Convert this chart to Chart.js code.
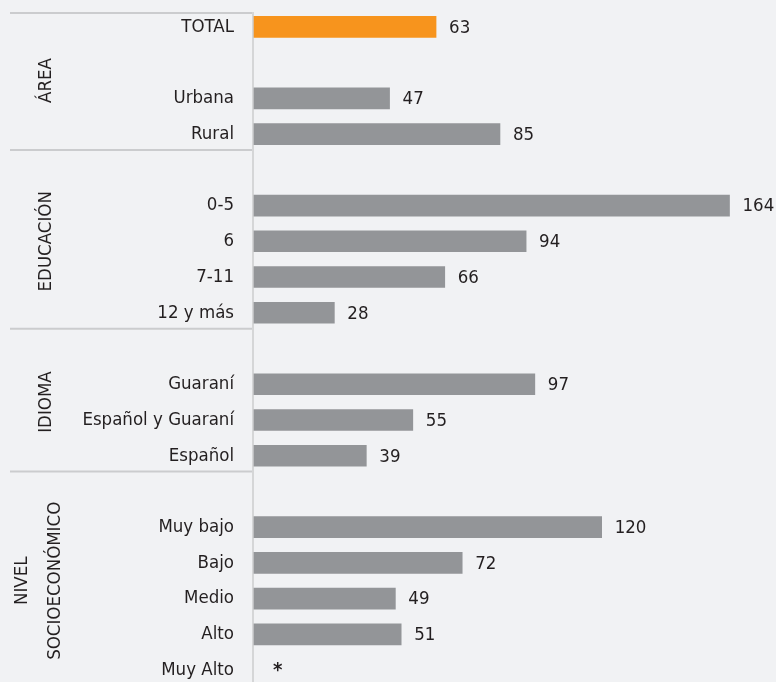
<!DOCTYPE html>
<html>
<head>
<meta charset="utf-8">
<script src="https://cdn.jsdelivr.net/npm/chart.js@4/dist/chart.umd.min.js"></script>
<style>
  html, body { margin: 0; padding: 0; overflow: hidden; background: #f1f2f4; }
  #wrap { position: relative; width: 776px; height: 688px; }
</style>
</head>
<body>
<div id="wrap"><canvas id="chart"></canvas></div>
<script>
// rows of the chart, empty strings are spacer rows between groups
const categories = ['TOTAL', '', 'Urbana', 'Rural',
    '', '0-5', '6', '7-11', '12 y más',
    '', 'Guaraní', 'Español y Guaraní', 'Español',
    '', 'Muy bajo', 'Bajo', 'Medio', 'Alto', 'Muy Alto'];
const values = [63, null, 47, 85,
    null, 164, 94, 66, 28,
    null, 97, 55, 39,
    null, 120, 72, 49, 51, null];
// row flagged with an asterisk instead of a value
const starRows = [18];
const groupNames = [['ÁREA'], ['EDUCACIÓN'], ['IDIOMA'], ['NIVEL', 'SOCIOECONÓMICO']];
const groupFirstRow = [0, 4, 9, 13];
const groupLastRow = [3, 8, 12, 18];
const xMax = 180;

const FONT = '"Liberation Sans Narrow", "DejaVu Sans Condensed", "Arial Narrow", sans-serif';
const SIZE = 18.5;
const TEXT = '#231f20';
const LINE = '#cbccce';

const decorations = {
    id: 'decorations',
    afterDatasetsDraw(chart) {
        const ctx = chart.ctx;
        const y = chart.scales.y;
        const area = chart.chartArea;
        const step = y.getPixelForValue(1) - y.getPixelForValue(0);

        // value labels
        ctx.save();
        ctx.font = SIZE + 'px ' + FONT;
        ctx.fillStyle = TEXT;
        ctx.textBaseline = 'middle';
        ctx.textAlign = 'left';
        chart.getDatasetMeta(0).data.forEach((bar, i) => {
            if (values[i] !== null) {
                ctx.fillText(String(values[i]), bar.x + 13, bar.y + 1);
            }
        });
        ctx.font = 'bold 20px ' + FONT;
        starRows.forEach(i => {
            ctx.fillText('*', area.left + 20, y.getPixelForValue(i) + 1);
        });
        ctx.restore();

        // separators and axis line
        ctx.save();
        ctx.strokeStyle = LINE;
        ctx.lineWidth = 2;
        const topY = y.getPixelForValue(0) - step / 2 + 4;
        const lines = [topY];
        groupLastRow.slice(0, -1).forEach(r => lines.push(y.getPixelForValue(r) + step / 2 - 2));
        lines.forEach(ly => {
            ctx.beginPath();
            ctx.moveTo(10, ly);
            ctx.lineTo(area.left - 1, ly);
            ctx.stroke();
        });
        ctx.lineWidth = 1.5;
        ctx.beginPath();
        ctx.moveTo(area.left, topY - 1);
        ctx.lineTo(area.left, area.bottom);
        ctx.stroke();
        ctx.restore();

        // rotated group names
        ctx.save();
        ctx.font = SIZE + 'px ' + FONT;
        ctx.fillStyle = TEXT;
        ctx.textAlign = 'center';
        ctx.textBaseline = 'middle';
        groupNames.forEach((lines, g) => {
            const cy = (y.getPixelForValue(groupFirstRow[g]) + y.getPixelForValue(groupLastRow[g])) / 2;
            const lh = 33;
            const x0 = lines.length > 1 ? 22 : 46;
            lines.forEach((txt, k) => {
                ctx.save();
                ctx.translate(x0 + k * lh, cy);
                ctx.rotate(-Math.PI / 2);
                ctx.fillText(txt, 0, 0);
                ctx.restore();
            });
        });
        ctx.restore();
    }
};

new Chart(document.getElementById('chart'), {
    type: 'bar',
    data: {
        labels: categories,
        datasets: [{
            data: values,
            backgroundColor: categories.map((c, i) => i === 0 ? '#f7941d' : '#939598'),
            barThickness: 21
        }]
    },
    options: {
        indexAxis: 'y',
        responsive: true,
        maintainAspectRatio: false,
        animation: false,
        layout: { padding: { top: 9, right: 0, bottom: 0, left: 0 } },
        scales: {
            x: {
                display: false,
                min: 0,
                max: xMax
            },
            y: {
                grid: { display: false, drawTicks: false },
                border: { display: false },
                ticks: {
                    autoSkip: false,
                    padding: 19,
                    color: TEXT,
                    font: { family: FONT, size: SIZE }
                },
                afterFit(scale) {
                    scale.width = 253;
                    scale.paddingTop = 0;
                    scale.paddingBottom = 0;
                }
            }
        },
        plugins: {
            legend: { display: false },
            tooltip: { enabled: false }
        }
    },
    plugins: [decorations]
});
</script>
</body>
</html>
